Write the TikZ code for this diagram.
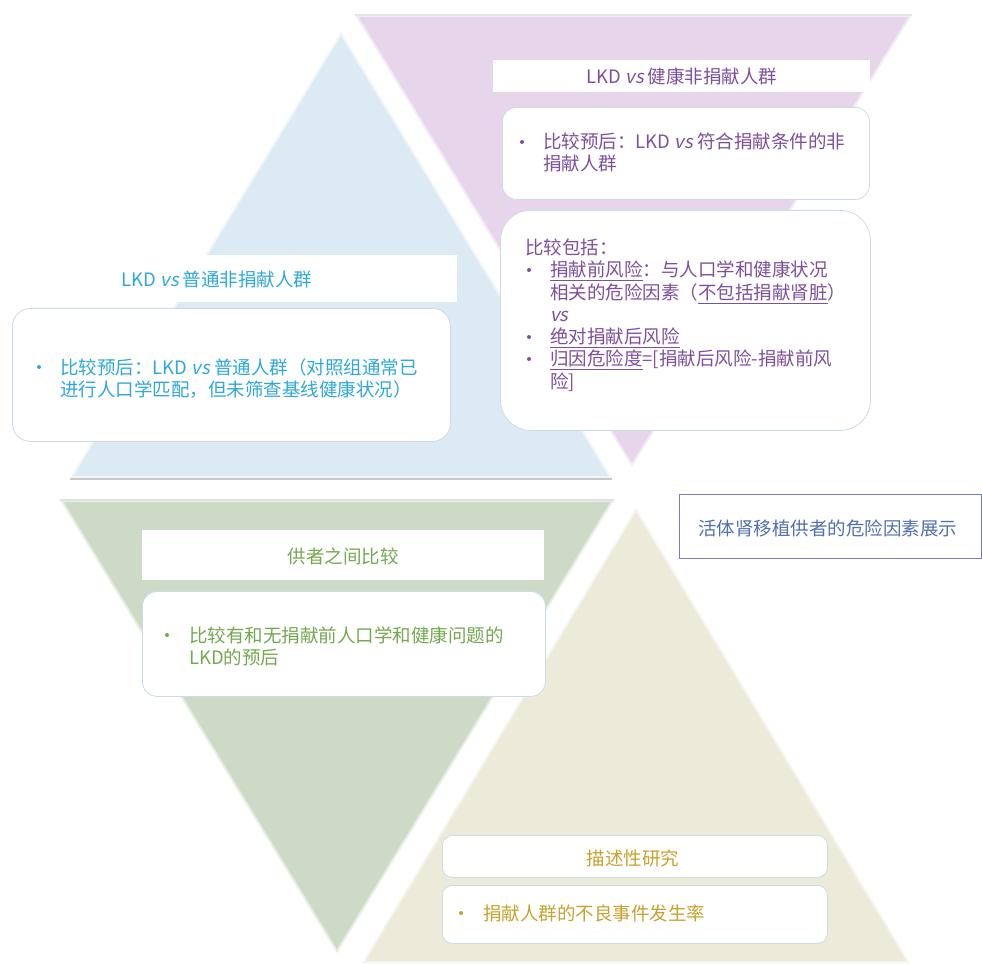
\documentclass[tikz,border=0pt]{standalone}
\usepackage{fontspec}
\setmainfont{Noto Sans CJK SC}
\newfontfamily\vsit[FakeSlant=0.2]{Noto Sans CJK SC}
\newcommand\vsx{{\vsit vs}}
\newcommand\fsz{\fontsize{18.5}{22}\selectfont}
\definecolor{triblue}{RGB}{220,234,243}
\definecolor{tripurple}{RGB}{231,214,235}
\definecolor{trigreen}{RGB}{205,218,198}
\definecolor{triyellow}{RGB}{236,234,216}
\definecolor{txpurple}{RGB}{126,79,159}
\definecolor{txblue}{RGB}{46,168,220}
\definecolor{txgreen}{RGB}{116,168,79}
\definecolor{txgold}{RGB}{201,161,44}
\definecolor{txlabel}{RGB}{80,112,175}
\definecolor{lblline}{RGB}{122,122,204}
\definecolor{boxline}{RGB}{205,218,232}
\tikzset{
  bevel/.style={draw=white,draw opacity=.55,line width=4pt},
  hdrbox/.style={fill=white,inner sep=0pt,anchor=north west},
  roundbox/.style={fill=white,draw=boxline,line width=0.8pt,inner sep=0pt,anchor=north west},
  txt/.style={anchor=base west,inner sep=0pt,font=\fsz},
  ctxt/.style={anchor=base,inner sep=0pt,font=\fsz},
  bul/.style={circle,inner sep=0pt,minimum size=4pt}
}
\begin{document}
\begin{tikzpicture}[x=1pt,y=-1pt]
\useasboundingbox (0,0) rectangle (982,965);
\fill[white] (0,0) rectangle (982,965);
% triangles
\fill[triblue] (341,32) -- (612,478) -- (70,478) -- cycle;
\draw[bevel] (341,32) -- (612,478) -- (70,478) -- cycle;
\draw[black!22,line width=1.3pt] (70,479) -- (612,479);
\fill[tripurple] (355,15) -- (912,15) -- (632,467) -- cycle;
\draw[bevel] (355,15) -- (912,15) -- (632,467) -- cycle;
\draw[black!10,line width=1.5pt] (355,15) -- (912,15);
\fill[trigreen] (60,500) -- (614,500) -- (337,953) -- cycle;
\draw[bevel] (60,500) -- (614,500) -- (337,953) -- cycle;
\draw[black!12,line width=1.5pt] (60,500) -- (614,500);
\fill[triyellow] (636,508) -- (910,963) -- (362,963) -- cycle;
\draw[bevel] (636,508) -- (910,963) -- (362,963) -- cycle;

% purple group
\node[hdrbox,minimum width=377pt,minimum height=32pt] (ph) at (493,60) {};
\node[ctxt,text=txpurple] (pht) at (682,84) {LKD \vsx{} 健康非捐献人群};
\node[roundbox,rounded corners=14pt,minimum width=367pt,minimum height=92pt] (pb1) at (502,107) {};
\node[bul,fill=txpurple] (pb1b) at (522,142) {};
\node[txt,text=txpurple] (pb1l1) at (543,149) {比较预后：LKD \vsx{} 符合捐献条件的非};
\node[txt,text=txpurple] (pb1l2) at (543,171) {捐献人群};
\node[roundbox,rounded corners=30pt,minimum width=370pt,minimum height=220pt] (pb2) at (500,210) {};
\node[txt,text=txpurple] (pb2l0) at (525,255) {比较包括：};
\node[bul,fill=txpurple] (pb2b1) at (529,270) {};
\node[txt,text=txpurple] (pb2l1) at (550,277) {\underline{捐献前风险}：与人口学和健康状况};
\node[txt,text=txpurple] (pb2l2) at (550,300) {相关的危险因素（\underline{不包括捐献肾脏}）};
\node[txt,text=txpurple] (pb2l3) at (550,322) {\vsx};
\node[bul,fill=txpurple] (pb2b2) at (529,337) {};
\node[txt,text=txpurple] (pb2l4) at (550,344) {\underline{绝对捐献后风险}};
\node[bul,fill=txpurple] (pb2b3) at (529,359) {};
\node[txt,text=txpurple] (pb2l5) at (550,366) {\underline{归因危险度}=[捐献后风险-捐献前风};
\node[txt,text=txpurple] (pb2l6) at (550,388) {险]};

% blue group
\node[hdrbox,minimum width=442pt,minimum height=47pt] (bh) at (15,255) {};
\node[ctxt,text=txblue] (bht) at (217,287) {LKD \vsx{} 普通非捐献人群};
\node[roundbox,rounded corners=18pt,minimum width=438pt,minimum height=133pt] (bb) at (12,308) {};
\node[bul,fill=txblue] (bbb) at (39,367) {};
\node[txt,text=txblue] (bbl1) at (60,374) {比较预后：LKD \vsx{} 普通人群（对照组通常已};
\node[txt,text=txblue] (bbl2) at (60,396) {进行人口学匹配，但未筛查基线健康状况）};

% green group
\node[hdrbox,minimum width=402pt,minimum height=50pt] (gh) at (142,530) {};
\node[ctxt,text=txgreen] (ght) at (343,563) {供者之间比较};
\node[roundbox,rounded corners=15pt,minimum width=403pt,minimum height=105pt] (gb) at (142,591) {};
\node[bul,fill=txgreen] (gbb) at (167,635) {};
\node[txt,text=txgreen] (gbl1) at (189,642) {比较有和无捐献前人口学和健康问题的};
\node[txt,text=txgreen] (gbl2) at (189,664) {LKD的预后};

% yellow group
\node[roundbox,rounded corners=10pt,minimum width=385pt,minimum height=42pt] (yh) at (442,835) {};
\node[ctxt,text=txgold] (yht) at (633,865) {描述性研究};
\node[roundbox,rounded corners=10pt,minimum width=385pt,minimum height=58pt] (yb) at (442,885) {};
\node[bul,fill=txgold] (ybb) at (461,913) {};
\node[txt,text=txgold] (ybl) at (483,920) {捐献人群的不良事件发生率};

% label
\node[draw=lblline,line width=0.9pt,fill=white,inner sep=0pt,anchor=north west,minimum width=302pt,minimum height=64pt] (lbl) at (679,494) {};
\node[txt,text=txlabel] (lblt) at (698,535) {活体肾移植供者的危险因素展示};
\end{tikzpicture}
\end{document}
